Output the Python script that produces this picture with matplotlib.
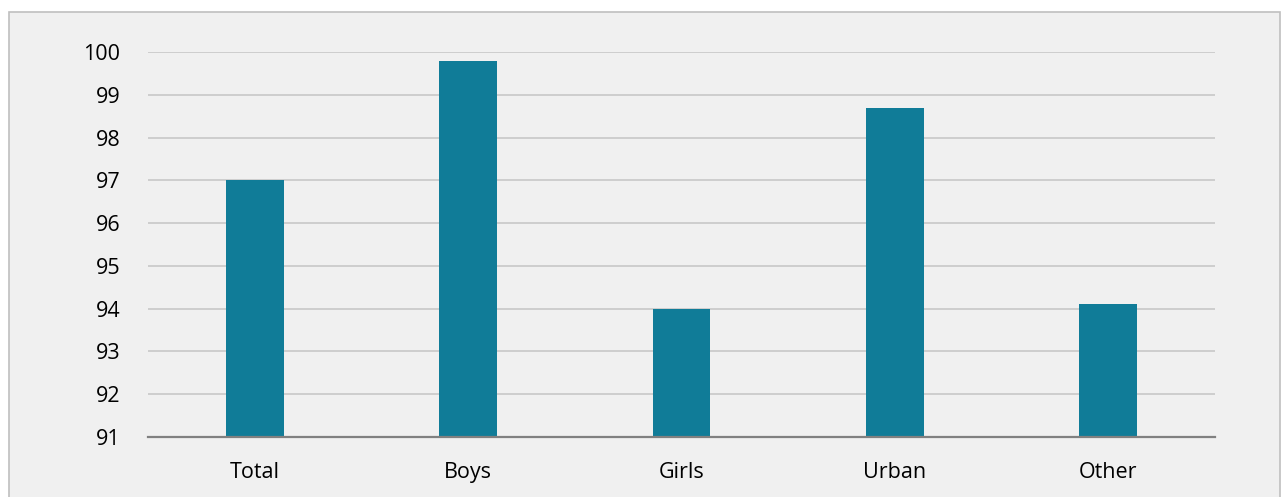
import matplotlib.pyplot as plt
from matplotlib.patches import Rectangle

categories = ["Total", "Boys", "Girls", "Urban", "Other"]
values = [97.0, 99.8, 94.0, 98.7, 94.1]

plt.rcParams["font.family"] = ["Open Sans", "DejaVu Sans"]

fig = plt.figure(figsize=(12.82, 4.97), dpi=100, facecolor="white")
# gray panel with border, like the spreadsheet chart area
fig.patches.append(Rectangle((9 / 1282, -0.01), 1271 / 1282, 1 - 12 / 497 + 0.01,
                             transform=fig.transFigure, facecolor="#f0f0f0",
                             edgecolor="#bfbfbf", linewidth=1.2, zorder=-10))

ax = fig.add_axes([148 / 1282, 1 - 437 / 497, (1215 - 148) / 1282, (437 - 52) / 497])
ax.set_facecolor("none")

x = range(len(categories))
ax.bar(x, values, width=0.27, color="#107C98", zorder=3)

ax.set_xlim(-0.5, len(categories) - 0.5)
ax.set_ylim(91, 100)
ax.set_yticks(range(91, 101))
ax.set_xticks(list(x))
ax.set_xticklabels(categories)
ax.grid(axis="y", color="#c8c8c8", linewidth=1.2, zorder=0)

for s in ["top", "right", "left"]:
    ax.spines[s].set_visible(False)
ax.spines["bottom"].set_color("#808080")
ax.spines["bottom"].set_linewidth(1.6)
ax.spines["bottom"].set_zorder(4)

ax.tick_params(axis="both", length=0, labelsize=15.5, colors="black")
ax.tick_params(axis="y", pad=20)
ax.tick_params(axis="x", pad=18)

fig.savefig("out.png", dpi=100)
